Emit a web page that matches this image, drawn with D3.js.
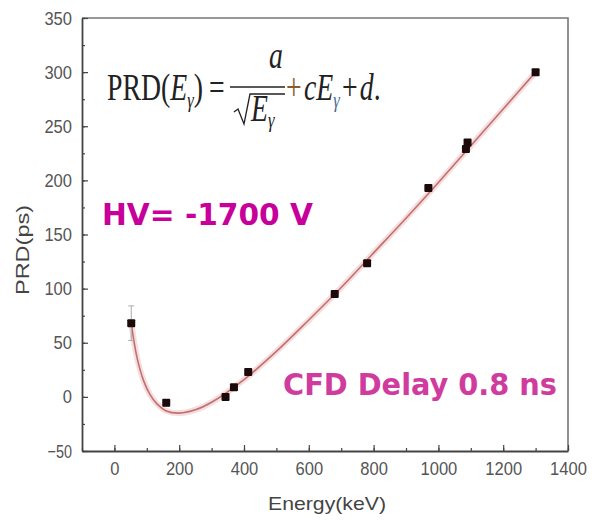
<!DOCTYPE html>
<html>
<head>
<meta charset="utf-8">
<script src="https://cdn.jsdelivr.net/npm/d3@7/dist/d3.min.js"></script>
<style>
  body { margin: 0; background: #fff; }
  svg { display: block; }
  .axis text { font-family: Arial, "Liberation Sans", sans-serif; fill: #555; }
  .axis path, .axis line { stroke: #444; }
</style>
</head>
<body>
<svg width="592" height="521"></svg>
<script>
// measured points
const energy = [52, 160, 343, 369, 413, 680, 780, 969, 1085, 1090, 1300];
const prd = [68, -5.5, 0, 9, 23, 95, 123.5, 193, 229, 235, 300];
const prdErr = [16, 3, 2, 2, 2, 2, 2, 2, 2, 2, 2];

// fitted curve
const fitEnergy = [52, 70, 90, 110, 130, 160, 200, 250, 300, 400, 500, 600, 700, 800, 900, 1000, 1100, 1200, 1300];
const fitPrd = [68, 36, 15, 2, -6, -13, -15, -12, -5, 16, 42, 71, 101, 133, 165, 198, 232, 266, 300];

const xTicks = [0, 200, 400, 600, 800, 1000, 1200, 1400];
const yTicks = [-50, 0, 50, 100, 150, 200, 250, 300, 350];

const svg = d3.select('svg');
const plotL = 82, plotR = 568, plotT = 18, plotB = 451;

const x = d3.scaleLinear().domain([-100, 1400]).range([plotL, plotR]);
const y = d3.scaleLinear().domain([-50, 350]).range([plotB, plotT]);

// frame top / right
svg.append('path')
    .attr('d', `M${plotL},${plotT}H${plotR}V${plotB}`)
    .attr('fill', 'none')
    .attr('stroke', '#777')
    .attr('stroke-width', 1.6);

// minor ticks
svg.append('g')
    .attr('class', 'axis')
    .attr('transform', `translate(0,${plotB})`)
    .call(d3.axisBottom(x).tickValues(d3.range(-100, 1401, 100)).tickSize(-3).tickSizeOuter(0).tickFormat(''))
    .call(g => g.select('.domain').remove());
svg.append('g')
    .attr('class', 'axis')
    .attr('transform', `translate(${plotL},0)`)
    .call(d3.axisLeft(y).tickValues(d3.range(-50, 351, 25)).tickSize(-3).tickSizeOuter(0).tickFormat(''))
    .call(g => g.select('.domain').remove());

const charW = s => s.split('').reduce((w, c) => w + (c === '-' ? 6 : 9.2), 0);

const xAxis = svg.append('g')
    .attr('class', 'axis')
    .attr('transform', `translate(0,${plotB})`)
    .call(d3.axisBottom(x).tickValues(xTicks).tickSize(-6).tickSizeOuter(0).tickPadding(11).tickFormat(d3.format('d')));
xAxis.selectAll('text')
    .attr('font-size', 19)
    .attr('textLength', d => charW(String(d)))
    .attr('lengthAdjust', 'spacingAndGlyphs');

const yAxis = svg.append('g')
    .attr('class', 'axis')
    .attr('transform', `translate(${plotL},0)`)
    .call(d3.axisLeft(y).tickValues(yTicks).tickSize(-6).tickSizeOuter(0).tickPadding(10).tickFormat(d3.format('d')));
yAxis.selectAll('text')
    .attr('font-size', 19)
    .attr('textLength', d => charW(String(d)))
    .attr('lengthAdjust', 'spacingAndGlyphs');

svg.selectAll('.axis .domain').attr('stroke-width', 1.8);
svg.selectAll('.axis line').attr('stroke-width', 1.2);

// axis titles
svg.append('text')
    .attr('x', 327).attr('y', 510)
    .attr('text-anchor', 'middle')
    .attr('font-family', 'Arial, "Liberation Sans", sans-serif')
    .attr('font-size', 19)
    .attr('fill', '#444')
    .attr('textLength', 118).attr('lengthAdjust', 'spacingAndGlyphs')
    .text('Energy(keV)');

svg.append('text')
    .attr('transform', 'translate(29,250) rotate(-90)')
    .attr('text-anchor', 'middle')
    .attr('font-family', 'Arial, "Liberation Sans", sans-serif')
    .attr('font-size', 19)
    .attr('fill', '#444')
    .attr('textLength', 90).attr('lengthAdjust', 'spacingAndGlyphs')
    .text('PRD(ps)');

// fit curve
const line = d3.line()
    .x((d, i) => x(fitEnergy[i]))
    .y(d => y(d))
    .curve(d3.curveCatmullRom);

svg.append('path')
    .datum(fitPrd)
    .attr('d', line)
    .attr('fill', 'none')
    .attr('stroke', '#f6dede')
    .attr('stroke-width', 6);
svg.append('path')
    .datum(fitPrd)
    .attr('d', line)
    .attr('fill', 'none')
    .attr('stroke', '#c07070')
    .attr('stroke-width', 1.6);

// error bars
const pts = energy.map((e, i) => ({e: e, v: prd[i], err: prdErr[i]}));
const eb = svg.append('g').selectAll('g')
    .data(pts)
    .enter()
    .append('g')
    .attr('stroke', '#aaa')
    .attr('stroke-width', 1);
eb.append('line')
    .attr('x1', d => x(d.e)).attr('x2', d => x(d.e))
    .attr('y1', d => y(d.v - d.err)).attr('y2', d => y(d.v + d.err));
eb.append('line')
    .attr('x1', d => x(d.e) - 3).attr('x2', d => x(d.e) + 3)
    .attr('y1', d => y(d.v + d.err)).attr('y2', d => y(d.v + d.err));
eb.append('line')
    .attr('x1', d => x(d.e) - 3).attr('x2', d => x(d.e) + 3)
    .attr('y1', d => y(d.v - d.err)).attr('y2', d => y(d.v - d.err));

// markers
svg.append('g').selectAll('rect')
    .data(pts)
    .enter()
    .append('rect')
    .attr('x', d => x(d.e) - 4)
    .attr('y', d => y(d.v) - 4)
    .attr('width', 8)
    .attr('height', 8)
    .attr('rx', 1)
    .attr('fill', '#1c0a0a');

// formula, squeezed horizontally like the original typeface
const serif = '"Liberation Serif", "Times New Roman", serif';
const formula = svg.append('g')
    .attr('font-family', serif)
    .attr('font-size', 37)
    .attr('fill', '#222');

const lhs = formula.append('text')
    .attr('transform', 'translate(107,100) scale(0.75,1)');
lhs.append('tspan').text('PRD(');
lhs.append('tspan').attr('font-style', 'italic').text('E');
lhs.append('tspan').attr('font-style', 'italic').attr('font-size', 22).attr('dy', 7).text('γ');
lhs.append('tspan').attr('dy', -7).text(')');
lhs.append('tspan').attr('dx', 8).text('=');

formula.append('line')
    .attr('x1', 230).attr('x2', 285)
    .attr('y1', 87).attr('y2', 87)
    .attr('stroke', '#222').attr('stroke-width', 1.4);

formula.append('text')
    .attr('transform', 'translate(269,68) scale(0.75,1)')
    .attr('font-style', 'italic')
    .text('a');

formula.append('path')
    .attr('d', 'M234,112 L238,109 L244,124 L250,94 L285,94')
    .attr('fill', 'none')
    .attr('stroke', '#222')
    .attr('stroke-width', 1.3);

const den = formula.append('text')
    .attr('transform', 'translate(251,121) scale(0.75,1)')
    .attr('font-style', 'italic');
den.append('tspan').text('E');
den.append('tspan').attr('font-size', 22).attr('dy', 6).text('γ');

const rhs = formula.append('text')
    .attr('transform', 'translate(286,100) scale(0.75,1)');
rhs.append('tspan').attr('fill', '#8a5a2a').text('+');
rhs.append('tspan').attr('dx', 3).attr('font-style', 'italic').text('c');
rhs.append('tspan').attr('font-style', 'italic').text('E');
rhs.append('tspan').attr('font-style', 'italic').attr('font-size', 22).attr('dy', 7).attr('fill', '#4a6a9a').text('γ');
rhs.append('tspan').attr('dy', -7).attr('dx', 3).text('+');
rhs.append('tspan').attr('dx', 3).attr('font-style', 'italic').text('d');
rhs.append('tspan').text('.');

// annotations
svg.append('text')
    .attr('x', 102).attr('y', 225)
    .attr('font-family', '"DejaVu Sans", sans-serif')
    .attr('font-weight', 'bold')
    .attr('font-size', 30)
    .attr('fill', '#c8009b')
    .attr('textLength', 211).attr('lengthAdjust', 'spacingAndGlyphs')
    .text('HV= -1700 V');

svg.append('text')
    .attr('x', 283).attr('y', 395)
    .attr('font-family', '"DejaVu Sans", sans-serif')
    .attr('font-weight', 'bold')
    .attr('font-size', 30)
    .attr('fill', '#cf3c9e')
    .attr('textLength', 274).attr('lengthAdjust', 'spacingAndGlyphs')
    .text('CFD Delay 0.8 ns');
</script>
</body>
</html>
